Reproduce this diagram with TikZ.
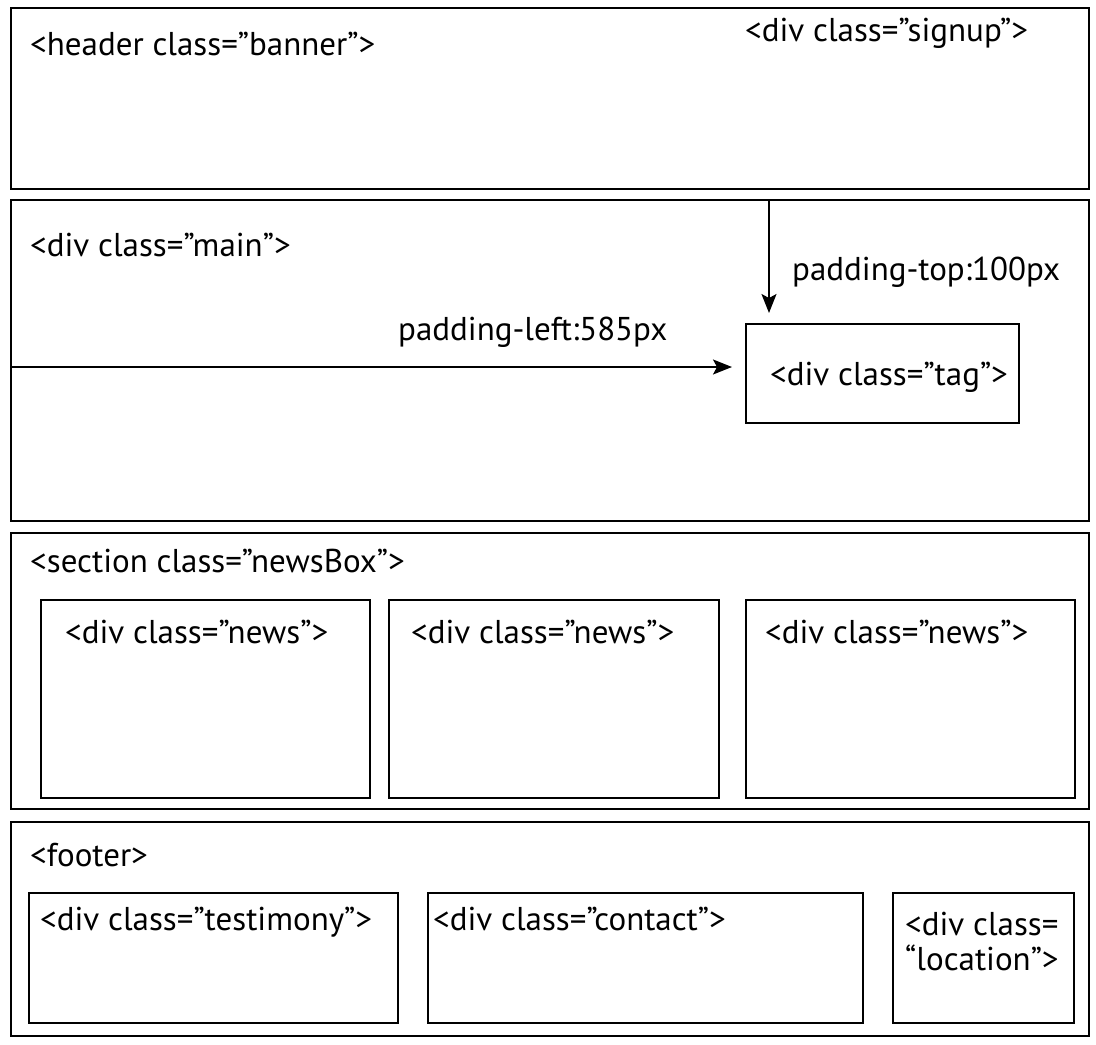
\documentclass[tikz,border=0pt]{standalone}
\usepackage{fontspec}
\setmainfont{PT Sans}
\usetikzlibrary{arrows.meta}
\begin{document}
\begin{tikzpicture}[x=1pt,y=-1pt,
  box/.style={draw, line width=1.6pt, inner sep=0pt, anchor=north west},
  lbl/.style={anchor=base west, inner sep=0pt, font=\fontsize{33}{40}\selectfont},
  arr/.style={line width=1.6pt, -{Stealth[length=19pt,width=15pt,inset=4pt]}}]
\useasboundingbox (0,0) rectangle (1096,1045);
% outer boxes
\node[box, minimum width=1078pt, minimum height=181pt] (header) at (10,7) {};
\node[box, minimum width=1078pt, minimum height=321pt] (main) at (10,199) {};
\node[box, minimum width=1078pt, minimum height=276pt] (section) at (10,532) {};
\node[box, minimum width=1078pt, minimum height=214pt] (footer) at (10,821) {};
% inner boxes
\node[box, minimum width=273pt, minimum height=99pt] (tag) at (745,323) {};
\node[box, minimum width=329pt, minimum height=198pt] (news1) at (40,599) {};
\node[box, minimum width=330pt, minimum height=198pt] (news2) at (388,599) {};
\node[box, minimum width=329pt, minimum height=198pt] (news3) at (745,599) {};
\node[box, minimum width=369pt, minimum height=130pt] (testimony) at (28,892) {};
\node[box, minimum width=435pt, minimum height=130pt] (contact) at (427,892) {};
\node[box, minimum width=181pt, minimum height=130pt] (location) at (892,892) {};
% labels
\node[lbl] (tHeader) at (30,55) {<header class=”banner”>};
\node[lbl] (tSignup) at (745,41) {<div class=”signup”>};
\node[lbl] (tMain) at (30,256) {<div class=”main”>};
\node[lbl] (tPadTop) at (792,280) {padding-top:100px};
\node[lbl] (tPadLeft) at (398,340) {padding-left:585px};
\node[lbl] (tTag) at (770,385) {<div class=”tag”>};
\node[lbl] (tSection) at (30,572) {<section class=”newsBox”>};
\node[lbl] (tNews1) at (65,643) {<div class=”news”>};
\node[lbl] (tNews2) at (411,643) {<div class=”news”>};
\node[lbl] (tNews3) at (765,643) {<div class=”news”>};
\node[lbl] (tFooter) at (30,866) {<footer>};
\node[lbl] (tTestimony) at (40,930) {<div class=”testimony”>};
\node[lbl] (tContact) at (433,930) {<div class=”contact”>};
\node[lbl] (tLoc1) at (905,935) {<div class=};
\node[lbl] (tLoc2) at (905,970) {“location”>};
% arrows
\coordinate (topStart) at (769,199);
\coordinate (leftStart) at (10,367);
\draw[arr, shorten >=10pt] (topStart) -- (topStart |- tag.north);
\draw[arr, shorten >=13pt] (leftStart) -- (leftStart -| tag.west);
\end{tikzpicture}
\end{document}
